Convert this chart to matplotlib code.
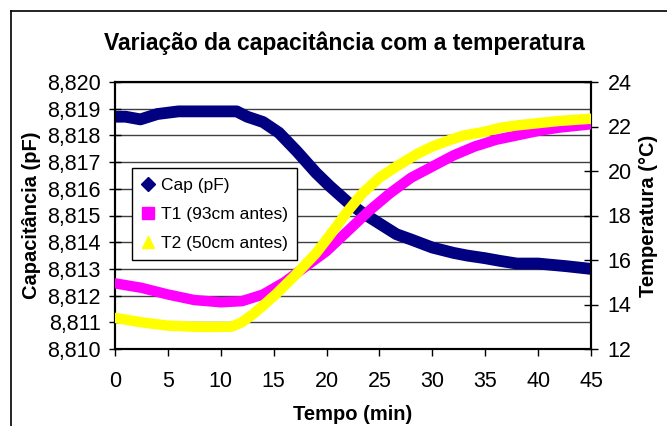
import matplotlib
matplotlib.use("Agg")
import matplotlib.pyplot as plt
from matplotlib.lines import Line2D
from matplotlib.ticker import FuncFormatter

plt.rcParams["font.family"] = ["Liberation Sans", "DejaVu Sans"]

# Capacitance series (min, pF)
cap_t = [0, 1, 2.4, 4, 6, 8, 10, 11.5, 12.5, 14, 15.5, 17.2, 19, 20.3, 22, 23.4,
         25, 26.6, 28, 30, 32, 33.3, 35, 36.4, 38, 40, 42.7, 45]
cap_pf = [8.8187, 8.8187, 8.8186, 8.8188, 8.8189, 8.8189, 8.8189, 8.8189, 8.8187,
          8.8185, 8.8181, 8.8174, 8.8166, 8.8161, 8.8155, 8.8151, 8.8147, 8.8143,
          8.8141, 8.8138, 8.8136, 8.8135, 8.8134, 8.8133, 8.8132, 8.8132, 8.8131,
          8.8130]

# T1 (93cm antes), degC
t1_t = [0, 2.5, 5, 7.5, 10, 12, 14, 16, 18, 20, 22, 24, 26, 28, 30, 32, 34, 36,
        38, 40, 42, 45]
t1_c = [14.95, 14.75, 14.45, 14.2, 14.1, 14.15, 14.45, 15.0, 15.7, 16.4, 17.3,
        18.2, 19.0, 19.7, 20.2, 20.7, 21.1, 21.4, 21.6, 21.8, 21.95, 22.1]

# T2 (50cm antes), degC
t2_t = [0, 2.5, 5, 7.5, 9, 11, 12, 13, 14, 15.3, 17, 19, 20.3, 22, 23.4, 25, 26.6,
        28.5, 30, 31.7, 33, 34.8, 36.5, 38, 40, 42, 45]
t2_c = [13.4, 13.2, 13.05, 13.0, 12.99, 13.0, 13.2, 13.55, 13.95, 14.5, 15.3, 16.3,
        17.1, 18.2, 19.0, 19.7, 20.2, 20.75, 21.1, 21.4, 21.6, 21.75, 21.95, 22.05,
        22.15, 22.25, 22.35]

x_ticks = list(range(0, 50, 5))
cap_ticks = [8.810 + 0.001 * i for i in range(11)]
temp_ticks = list(range(12, 26, 2))

navy, magenta, yellow = "#000080", "#FF00FF", "#FFFF00"

fig = plt.figure(figsize=(6.67, 4.26), dpi=100)
ax = fig.add_axes([115 / 667, 1 - 349 / 426, 476 / 667, 267 / 426])
ax2 = ax.twinx()

ax.plot(cap_t, cap_pf, color=navy, lw=8.5, solid_capstyle="round", zorder=3)
ax2.plot(t1_t, t1_c, color=magenta, lw=7.5, solid_capstyle="round", zorder=3)
ax2.plot(t2_t, t2_c, color=yellow, lw=7.5, solid_capstyle="round", zorder=4)

ax.set_xlim(0, 45)
ax.set_ylim(8.810, 8.820)
ax2.set_ylim(12, 24)
ax.set_xticks(x_ticks)
ax.set_yticks(cap_ticks)
ax2.set_yticks(temp_ticks)
ax.yaxis.set_major_formatter(FuncFormatter(lambda v, _: f"{v:.3f}".replace(".", ",")))

ax.grid(axis="y", color="#404040", lw=1)
ax.set_axisbelow(True)
for a in (ax, ax2):
    for s in a.spines.values():
        s.set_linewidth(1.5)
ax.tick_params(axis="y", direction="inout", length=9, width=1, labelsize=15.5, pad=6)
ax.tick_params(axis="x", direction="out", length=5, width=1, labelsize=15.5, pad=11)
ax2.tick_params(axis="y", direction="inout", length=10, width=1, labelsize=15.5, pad=7)

ax.set_title("Variação da capacitância com a temperatura", fontsize=16.5,
             fontweight="bold", pad=23, x=0.482)
ax.set_xlabel("Tempo (min)", fontsize=14.5, fontweight="bold", labelpad=9)
ax.set_ylabel("Capacitância (pF)", fontsize=14.5, fontweight="bold", labelpad=4)
ax2.set_ylabel("Temperatura (°C)", fontsize=14.5, fontweight="bold", labelpad=5)

handles = [
    Line2D([], [], ls="none", marker="D", ms=7, color=navy),
    Line2D([], [], ls="none", marker="s", ms=8, color=magenta),
    Line2D([], [], ls="none", marker="^", ms=9, color=yellow),
]
ax2.legend(handles, ["Cap (pF)", "T1 (93cm antes)", "T2 (50cm antes)"],
           loc="upper left", bbox_to_anchor=(0.036, 0.678), borderaxespad=0,
           fontsize=12.5, frameon=True, fancybox=False, edgecolor="black",
           framealpha=1, handlelength=0.7, handletextpad=0.4, labelspacing=0.8,
           borderpad=0.55)

# outer chart frame, cut at the right and bottom edges
fig.add_artist(Line2D([11 / 667, 1.0], [1 - 11 / 426] * 2, color="black", lw=1.2))
fig.add_artist(Line2D([11 / 667] * 2, [0.0, 1 - 11 / 426], color="black", lw=1.2))

fig.savefig("out.png", dpi=100)
